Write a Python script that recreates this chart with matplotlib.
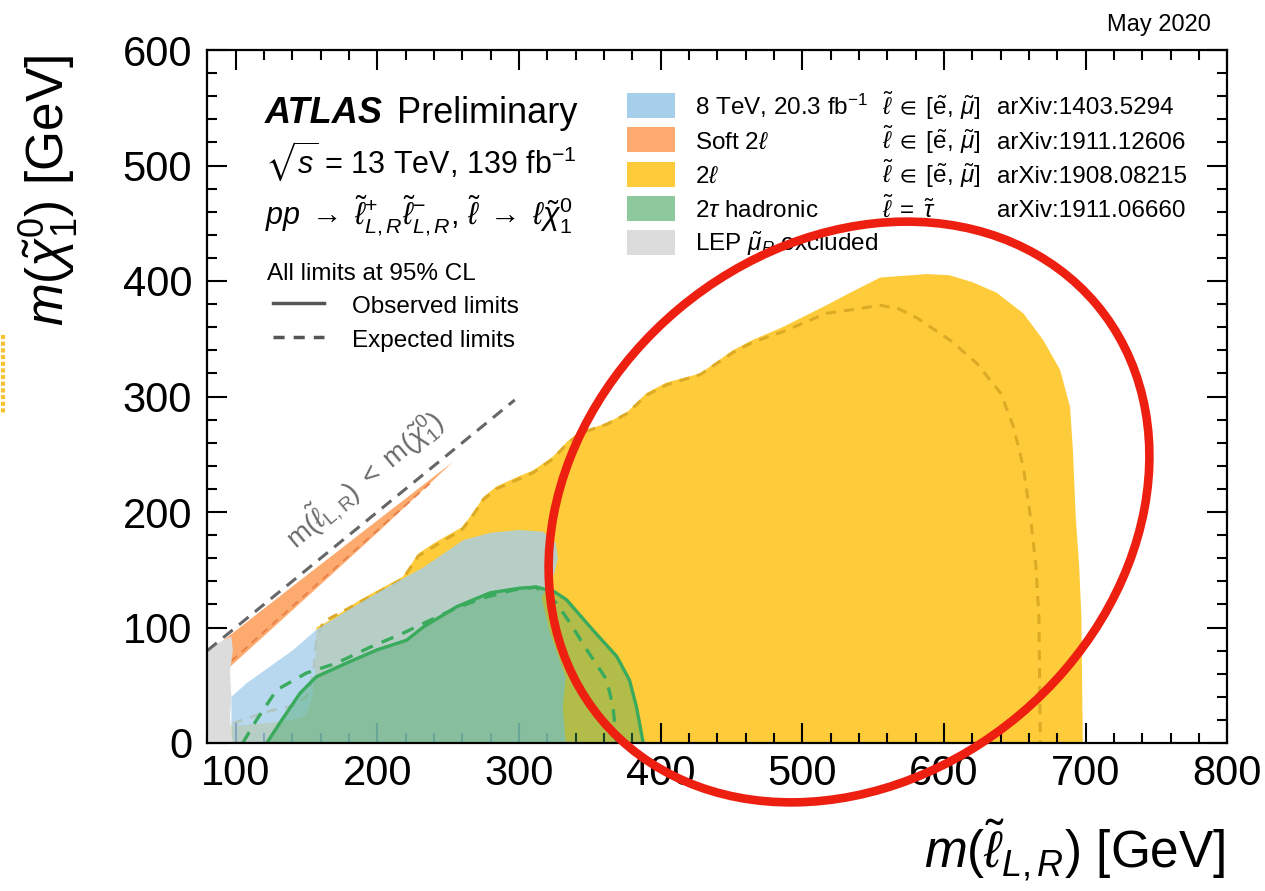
import matplotlib
matplotlib.use("Agg")
import matplotlib.pyplot as plt
from matplotlib.patches import Rectangle, Ellipse
from matplotlib.lines import Line2D
from matplotlib.ticker import MultipleLocator
from matplotlib.transforms import Affine2D

plt.rcParams['font.family'] = ['Liberation Sans', 'DejaVu Sans']
plt.rcParams['mathtext.fontset'] = 'custom'
plt.rcParams['mathtext.rm'] = 'Liberation Sans'
plt.rcParams['mathtext.it'] = 'Liberation Sans:italic'
plt.rcParams['mathtext.bf'] = 'Liberation Sans:bold'
plt.rcParams['mathtext.sf'] = 'Liberation Sans'
plt.rcParams['mathtext.fallback'] = 'stix'

# ---------------- exclusion contours: (m_slepton, m_chi10) in GeV ----------------
# 2l (e, mu) observed
twol_obs_x = [97, 97, 120, 140, 150, 154, 156, 157, 166, 188, 218, 229, 240, 260, 268,
              275, 280, 284, 300, 310, 324, 334, 343, 362, 376, 390, 404, 428, 451, 465,
              486, 517, 534, 555, 588, 604, 620, 637, 656, 670, 682, 689, 691, 692, 693,
              695.5, 697, 698]
twol_obs_y = [0, 15, 17, 20, 24, 40, 60, 100, 106, 124, 144, 164, 173, 187, 200,
              213, 218, 222, 231, 236, 248, 261, 269, 277, 286, 303, 312, 320, 340, 349,
              360, 379, 390, 403, 406, 405, 399, 390, 372, 349, 323, 291, 254, 225, 196,
              152, 109, 0]
# 2l (e, mu) expected
twol_exp_x = [98, 110, 125, 140, 150, 155, 157, 162, 188, 218, 229, 260, 268, 275, 284,
              310, 324, 334, 343, 362, 376, 390, 404, 428, 451, 465, 486, 517, 534, 555,
              568, 581, 604, 623, 640, 649, 656, 661, 665, 667, 668]
twol_exp_y = [17, 22, 28, 32, 40, 60, 90, 105, 122, 142, 162, 185, 198, 211, 220,
              234, 246, 259, 268, 276, 285, 301, 310, 319, 338, 347, 356, 372, 375, 379,
              376, 368, 349, 329, 303, 274, 239, 196, 152, 109, 0]

# 8 TeV, 20.3 fb-1 observed
run1_x = [97, 97, 108, 124, 140.6, 157, 176, 195, 216, 232.6, 260.6, 280, 300, 317, 326,
          327.5, 325, 320, 316, 322, 333, 331, 333]
run1_y = [0, 40, 52, 66, 80.5, 98, 112.5, 126.4, 141, 152, 175.6, 182, 184.4, 183, 173,
          160, 147, 135, 126, 95, 57, 31, 0]

# 2 tau hadronic observed / expected
tau_obs_x = [122, 131, 145.4, 157, 178, 199.5, 220.7, 232, 256, 279.5, 300, 312.5, 325,
             333.6, 352, 369, 378, 383, 387.7]
tau_obs_y = [0, 17, 43, 57.4, 69, 80.5, 89, 100, 118, 130, 134, 135, 131,
             124, 98, 75, 54.5, 31, 0]
tau_exp_x = [105, 114.8, 129, 150, 171, 195, 218, 242, 258, 277, 296, 312, 326.6,
             336, 348, 362, 366.4, 369]
tau_exp_y = [0, 20, 46, 60.6, 69, 83, 95, 109, 118, 126.4, 132.5, 135, 121,
             104, 80.5, 54.5, 31, 0]

# Soft 2l observed band along the compressed diagonal, and its expected edge
soft_obs_x = [80, 150, 253.5, 200, 150, 97, 80]
soft_obs_y = [78, 145, 243.5, 182, 126, 67, 52]
soft_exp_x = [97, 240]
soft_exp_y = [71, 228]

# LEP smuon_R exclusion
lep_x = [80, 80, 90, 97, 98, 96, 97, 96, 97, 98]
lep_y = [0, 80, 88, 92, 80, 62, 40, 22, 10, 0]

# kinematic boundary m(slepton) = m(chi10)
diag_x = [80, 297]
diag_y = [80, 297]

xticks = [100, 200, 300, 400, 500, 600, 700, 800]
yticks = [0, 100, 200, 300, 400, 500, 600]

legend_labels = ["8 TeV, 20.3 fb$^{-1}$", "Soft 2$\\ell$", "2$\\ell$",
                 "2$\\tau$ hadronic", "LEP $\\tilde{\\mu}_R$ excluded"]
_emu = "$\\tilde{\\ell}\\;\\in\\;[\\tilde{\\mathrm{e}},\\,\\tilde{\\mu}]$"
legend_flavours = [_emu, _emu, _emu, "$\\tilde{\\ell}\\;=\\;\\tilde{\\tau}$", ""]
legend_refs = ["arXiv:1403.5294", "arXiv:1911.12606", "arXiv:1908.08215",
               "arXiv:1911.06660", ""]
legend_colors = ["#a6cfec", "#fdaa6e", "#fecc3a", "#8dc99d", "#dcdcdc"]

# ---------------- figure ----------------
W, H = 1265, 891
fig = plt.figure(figsize=(W / 100, H / 100), dpi=100)
ax = fig.add_axes([207.3 / W, 1 - 743 / H, 1020 / W, 693 / H])
PX = Affine2D().scale(1 / W, 1 / H) + fig.transFigure


def fx(x):
    return x / W


def fy(y):
    return 1 - y / H


YELLOW = "#fecc3a"
ax.fill(twol_obs_x, twol_obs_y, color=YELLOW, lw=0, zorder=1)
ax.plot(twol_exp_x, twol_exp_y, color="#dcaa25", lw=2.2, dashes=(3.3, 2.6), zorder=1.5)

ax.fill(run1_x, run1_y, color="#a6cfec", alpha=0.8, lw=0, zorder=2)

ax.fill(soft_obs_x, soft_obs_y, color="#fdaa6e", lw=0, zorder=2)
ax.plot(soft_exp_x, soft_exp_y, color="#e8824a", lw=1.4, dashes=(4, 3), zorder=2.1)

ax.fill(tau_obs_x, tau_obs_y, color="#40a860", alpha=0.4, lw=0, zorder=3)
ax.plot(tau_obs_x, tau_obs_y, color="#3aaa5c", lw=2.4, zorder=3.5)
ax.plot(tau_exp_x, tau_exp_y, color="#3aaa5c", lw=2.4, dashes=(3.8, 2.9), zorder=3.5)

ax.fill(lep_x, lep_y, color="#dcdcdc", lw=0, zorder=4)

ax.plot(diag_x, diag_y, color="#666666", lw=2.2, dashes=(4, 2.7), zorder=5)
ax.text(190.5, 228,
        "$\\mathrm{m}(\\tilde{\\ell}_{\\mathrm{L,R}})\\ <\\ \\mathrm{m}(\\tilde{\\chi}^{0}_{1})$",
        color="#6a6a6a", fontsize=20, rotation=40, rotation_mode="anchor",
        ha="center", va="center", zorder=5)

ax.set_xlim(80, 800)
ax.set_ylim(0, 600)
ax.set_xticks(xticks)
ax.set_yticks(yticks)
ax.xaxis.set_minor_locator(MultipleLocator(20))
ax.yaxis.set_minor_locator(MultipleLocator(20))
ax.tick_params(which="both", direction="in", top=True, right=True, width=1.5,
               labelsize=30)
ax.tick_params(axis="x", which="major", length=14.4, pad=8)
ax.tick_params(axis="y", which="major", length=14.4, pad=11)
ax.tick_params(which="minor", length=7.2)
for s in ax.spines.values():
    s.set_linewidth(1.6)
    s.set_zorder(10)

# axis titles
fig.text(fx(1225), fy(868), "$m(\\tilde{\\ell}_{L,R})$ [GeV]", fontsize=37,
         ha="right", va="baseline")
fig.text(fx(48), fy(55), "$m(\\tilde{\\chi}^{0}_{1})$ [GeV]", fontsize=37,
         rotation=90, ha="center", va="top")

fig.text(fx(1210.7), fy(30.7), "May 2020", fontsize=17, ha="right", va="baseline")

# upper-left labels
fig.text(fx(265), fy(123.3), "ATLAS", fontsize=26, fontweight="bold",
         fontstyle="italic", va="baseline")
fig.text(fx(396.7), fy(123.3), "Preliminary", fontsize=26, va="baseline")
fig.text(fx(265), fy(173.3), "$\\sqrt{s}$ = 13 TeV, 139 fb$^{-1}$", fontsize=22,
         va="baseline")
fig.text(fx(265), fy(225),
         "$pp\\;\\rightarrow\\;\\tilde{\\ell}^{+}_{L,R}\\tilde{\\ell}^{-}_{L,R},\\,"
         "\\tilde{\\ell}\\;\\rightarrow\\;\\ell\\tilde{\\chi}^{0}_{1}$",
         fontsize=22, va="baseline")
fig.text(fx(266.7), fy(280), "All limits at 95% CL", fontsize=17.5, va="baseline")
fig.add_artist(Line2D([272.7, 324], [H - 303.3, H - 303.3], transform=PX,
                      color="#555555", lw=2.5))
fig.text(fx(351.7), fy(313.3), "Observed limits", fontsize=17.5, va="baseline")
fig.add_artist(Line2D([272.7, 324], [H - 336.7, H - 336.7], transform=PX,
                      color="#555555", lw=2.5, dashes=(3.2, 2.6)))
fig.text(fx(351.7), fy(347), "Expected limits", fontsize=17.5, va="baseline")

# legend rows
row_centres = [105.5, 139.7, 174, 208, 242.5]
for yc, lab, flav, ref, col in zip(row_centres, legend_labels, legend_flavours,
                                   legend_refs, legend_colors):
    fig.add_artist(Rectangle((627.4, H - yc - 12.5), 47.6, 25, transform=PX,
                             facecolor=col, edgecolor="none"))
    fig.text(fx(695), fy(yc + 9), lab, fontsize=17.5, va="baseline")
    if flav:
        fig.text(fx(882), fy(yc + 9), flav, fontsize=17.5, va="baseline")
    if ref:
        fig.text(fx(996.6), fy(yc + 9), ref, fontsize=17.5, va="baseline")

# highlight ring
fig.add_artist(Ellipse((849, H - 512), 646, 530, angle=40, transform=PX,
                       fill=False, edgecolor="#ec1f10", lw=6.2, zorder=20))
# faint mark at the left border
fig.add_artist(Line2D([2.5, 2.5], [H - 335, H - 415], transform=PX,
                      color="#f5b400", lw=3, dashes=(1, 0.6), alpha=0.8))

fig.savefig("out.png", dpi=100)
